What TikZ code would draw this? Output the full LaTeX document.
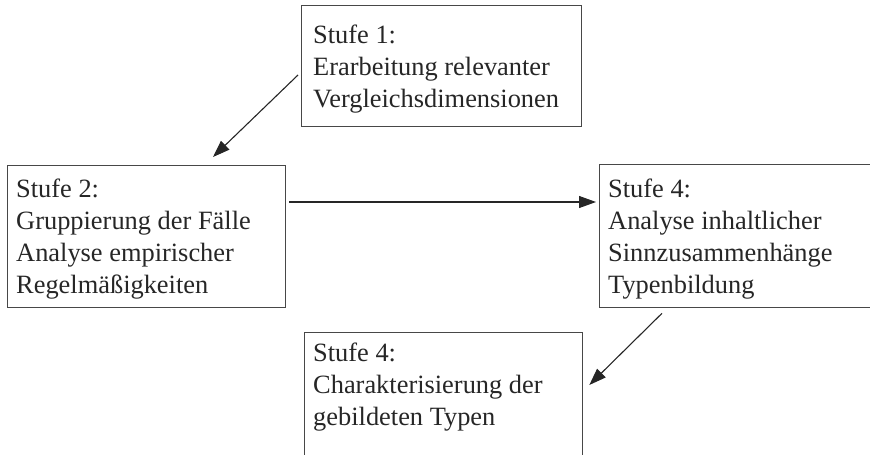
\documentclass[tikz,border=0pt]{standalone}
\usepackage{fontspec}
\setmainfont{Liberation Serif}
\usetikzlibrary{arrows.meta,calc}
\begin{document}
\begin{tikzpicture}[x=1pt,y=-1pt,
  stagebox/.style={draw=black!72,line width=1.3pt,rectangle,inner sep=0pt,anchor=north west},
  stagetext/.style={anchor=base west,inner sep=0pt,font=\fontsize{26.4}{32}\selectfont,align=left,text=black!85},
  flow/.style={-{Triangle[length=17pt,width=12pt]},line width=1.1pt,black!85}]
\useasboundingbox (0,0) rectangle (870,455);
% stage boxes
\node[stagebox,minimum width=280pt,minimum height=121pt] (s1) at (301,5) {};
\node[stagebox,minimum width=278pt,minimum height=142pt] (s2) at (7,165) {};
\node[stagebox,minimum width=290pt,minimum height=143pt] (s3) at (599,164) {};
\node[stagebox,minimum width=278pt,minimum height=150pt] (s4) at (304,332) {};
% labels (anchored at the baseline of the last line)
\node[stagetext] (t1) at (313,107) {Stufe 1:\\Erarbeitung relevanter\\Vergleichsdimensionen};
\node[stagetext] (t2) at (16,293) {Stufe 2:\\Gruppierung der Fälle\\Analyse empirischer\\Regelmäßigkeiten};
\node[stagetext] (t3) at (608,293) {Stufe 4:\\Analyse inhaltlicher\\Sinnzusammenhänge\\Typenbildung};
\node[stagetext] (t4) at (313,425) {Stufe 4:\\Charakterisierung der\\gebildeten Typen};
% connectors
\draw[flow] ($(s1.north west)+(-3,70)$) -- ($(s2.north west)+(206,-8)$);
\draw[flow] ($(s2.north east)+(3,37)$) -- ($(s3.north west)+(-3,38)$);
\draw[flow] ($(s3.south west)+(63,5)$) -- ($(s4.north east)+(6,53)$);
\end{tikzpicture}
\end{document}
